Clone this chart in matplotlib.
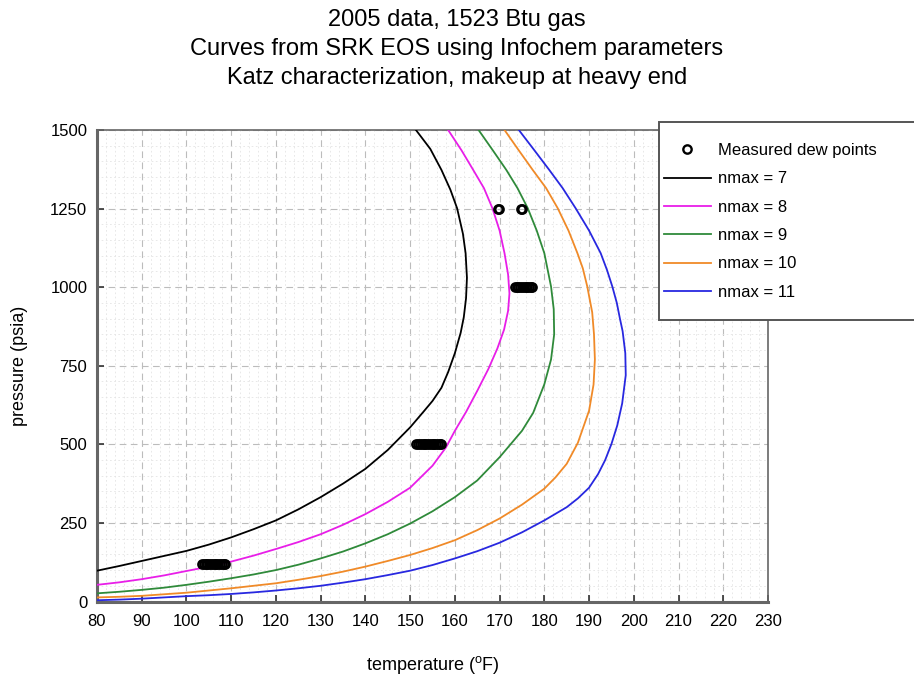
import numpy as np
import matplotlib.pyplot as plt
from matplotlib.patches import Rectangle
from matplotlib.ticker import MultipleLocator

plt.rcParams['font.family'] = ['Liberation Sans', 'DejaVu Sans']

# Dew point curves (temperature degF, pressure psia), traced along each envelope
t_n7 = [80, 85, 90, 95, 100, 105, 110, 115, 120, 125, 130, 135, 140, 145, 150, 153, 155,
        157, 158.5, 160, 161.3, 162.0, 162.5, 162.7, 162.4, 161.8, 160.5, 159.0, 157.0, 154.5, 151.3]
p_n7 = [98, 113, 129, 145, 161, 181, 204, 230, 258, 293, 332, 375, 422, 482, 554, 604, 638,
        680, 730, 790, 855, 905, 965, 1030, 1108, 1170, 1251, 1310, 1373, 1440, 1500]

t_n8 = [80, 85, 90, 95, 100, 105, 110, 115, 120, 125, 130, 135, 140, 145, 150, 155, 158,
        160, 162.5, 165, 167.5, 169.5, 171.0, 171.9, 172.2, 171.9, 171.1, 170.0, 168.4, 166.5,
        164.1, 161.5, 158.5]
p_n8 = [53, 61, 71, 83, 97, 111, 127, 146, 167, 189, 214, 244, 278, 317, 362, 432, 490,
        543, 603, 670, 740, 805, 865, 925, 980, 1040, 1108, 1180, 1251, 1315,
        1373, 1435, 1500]

t_n9 = [80, 85, 90, 95, 100, 105, 110, 115, 120, 125, 130, 135, 140, 145, 150, 155, 160,
        165, 170, 175, 177.5, 180, 181.5, 182.2, 182.1, 181.5, 180.0, 178.3, 176.3, 174.0,
        171.5, 168.5, 165.3]
p_n9 = [26, 31, 37, 44, 53, 63, 74, 86, 100, 117, 137, 159, 185, 214, 248, 287, 332,
        385, 459, 543, 600, 691, 770, 850, 930, 1002, 1108, 1180, 1251, 1315,
        1373, 1435, 1500]

t_n10 = [80, 85, 90, 95, 100, 105, 110, 115, 120, 125, 130, 135, 140, 145, 150, 155, 160,
         165, 170, 175, 180, 182.5, 185, 187.5, 190, 191.0, 191.3, 191.1, 190.7, 189.6,
         188.6, 187.4, 185.4, 183.0, 180.4, 177.4, 174.3, 171.1]
p_n10 = [13, 15, 18, 23, 28, 35, 42, 50, 58, 69, 81, 95, 111, 129, 148, 170, 195,
         227, 264, 308, 359, 395, 438, 505, 607, 690, 770, 850, 920, 1002,
         1060, 1108, 1180, 1251, 1315, 1373, 1435, 1500]

t_n11 = [80, 85, 90, 95, 100, 105, 110, 115, 120, 125, 130, 135, 140, 145, 150, 155, 160,
         165, 170, 175, 180, 185, 187.5, 190, 192.0, 193.6, 195.0, 196.3, 197.4, 198.2, 198.1,
         197.5, 196.9, 196.2, 195.2, 194.0, 192.6, 190.0, 187.0, 184.1, 181.1, 177.8, 174.3]
p_n11 = [4, 6, 9, 13, 17, 20, 24, 29, 35, 42, 50, 60, 71, 84, 98, 116, 137,
         160, 187, 220, 258, 300, 328, 362, 405, 450, 501, 560, 630, 720, 790,
         860, 900, 950, 1002, 1055, 1108, 1180, 1251, 1315, 1373, 1435, 1500]

# Measured dew points (repeat samples overlap at each pressure)
t_120 = [103.5, 103.9, 104.3, 104.7, 105.1, 105.5, 105.9, 106.3, 106.7, 107.1, 107.5, 107.9, 108.3, 108.6]
t_500 = [151.4, 151.8, 152.2, 152.6, 153.0, 153.4, 153.8, 154.2, 154.6, 155.0, 155.4,
         155.8, 156.2, 156.6, 157.0]
t_1000 = [173.4, 173.8, 174.2, 174.6, 175.0, 175.4, 175.8, 176.2, 176.6, 177.0, 177.2]
t_1250 = [169.7, 169.9, 174.8, 175.0]
meas_t = t_120 + t_500 + t_1000 + t_1250
meas_p = ([120] * len(t_120) + [500] * len(t_500) + [1000] * len(t_1000)
          + [1250] * len(t_1250))

curves = [
    (t_n7, p_n7, 'black', 'nmax = 7'),
    (t_n8, p_n8, '#e81ee8', 'nmax = 8'),
    (t_n9, p_n9, '#2f8a3a', 'nmax = 9'),
    (t_n10, p_n10, '#f08a28', 'nmax = 10'),
    (t_n11, p_n11, '#2828e0', 'nmax = 11'),
]

W, H = 914, 675
fig = plt.figure(figsize=(W / 100, H / 100), dpi=100)
ax = fig.add_axes([97 / W, 1 - 601.5 / H, 671 / W, 471.5 / H])

handles = []
h_meas, = ax.plot(meas_t, meas_p, 'o', mfc='none', mec='black', ms=6, mew=1.7,
                  linestyle='none', zorder=4, label='Measured dew points')
handles.append(h_meas)
for t, p, c, lab in curves:
    h, = ax.plot(t, p, color=c, lw=1.3, label=lab, zorder=3, solid_joinstyle='round')
    handles.append(h)

ax.set_xlim(80, 230)
ax.set_ylim(0, 1500)
ax.xaxis.set_major_locator(MultipleLocator(10))
ax.yaxis.set_major_locator(MultipleLocator(250))
ax.xaxis.set_minor_locator(MultipleLocator(2))
ax.yaxis.set_minor_locator(MultipleLocator(50))
ax.grid(which='major', color='#bcbcbc', linestyle=(0, (6, 4)), lw=0.8)
ax.grid(which='minor', color='#e4e4e4', linestyle=(0, (2, 3)), lw=0.6)
ax.tick_params(which='major', direction='in', length=5, width=1.2, labelsize=12,
               color='#333333', pad=9)
ax.tick_params(axis='y', which='major', pad=7)
ax.tick_params(which='minor', length=0)
for s in ax.spines.values():
    s.set_color('#666666')
    s.set_linewidth(1.2)
ax.spines['left'].set_linewidth(2.2)
ax.spines['bottom'].set_linewidth(2.2)

ax.set_xlabel(r'temperature ($\mathregular{^o}$F)', fontsize=13, labelpad=18)
ax.set_ylabel('pressure (psia)', fontsize=13, labelpad=16)

fig.suptitle('2005 data, 1523 Btu gas\nCurves from SRK EOS using Infochem parameters\n'
             'Katz characterization, makeup at heavy end',
             fontsize=17, y=0.986, va='top', linespacing=1.4)

# legend box runs off the right edge of the figure
fig.patches.append(Rectangle((659 / W, 1 - 320 / H), 270 / W, 198 / H,
                             transform=fig.transFigure, facecolor='white',
                             edgecolor='#555555', lw=1.4, zorder=5))
leg = fig.legend(handles=handles, loc='upper left', bbox_to_anchor=(664 / W, 1 - 143 / H),
                 fontsize=12, frameon=False, handlelength=2.8, handletextpad=0.45,
                 labelspacing=0.8, borderpad=0, borderaxespad=0, numpoints=1)
leg.set_zorder(6)

fig.savefig('out.png', dpi=100)
